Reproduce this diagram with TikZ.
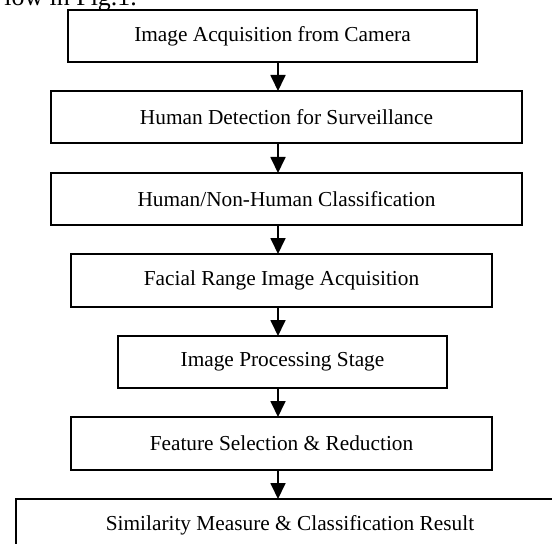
\documentclass[tikz,border=0pt]{standalone}
\usepackage{fontspec}
\setmainfont{Liberation Serif}
\usetikzlibrary{arrows.meta}
\begin{document}
\begin{tikzpicture}[x=1bp,y=-1bp,
  stage/.style={draw, line width=1.6bp, inner sep=0pt, outer sep=0pt,
    align=center, font=\fontsize{21.4}{25}\selectfont},
  flow/.style={line width=1.8bp, -{Triangle[width=15bp,length=16bp]}}]
  \useasboundingbox (0,0) rectangle (552,544);
  \clip (0,0) rectangle (552,544);
  % running text above the figure
  \node[anchor=base east, inner sep=0pt, font=\fontsize{26}{30}\selectfont]
    (caption) at (137,6) {low in Fig.1.};
  % processing stages
  \node[stage, minimum width=409bp, minimum height=52bp] (b1) at (272.5,36) {Image Acquisition from Camera};
  \node[stage, minimum width=471bp, minimum height=52bp] (b2) at (286.5,117) {Human Detection for Surveillance};
  \node[stage, minimum width=471bp, minimum height=52bp] (b3) at (286.5,199) {Human/Non-Human Classification};
  \node[stage, minimum width=421bp, minimum height=53bp] (b4) at (281.5,280.5) {Facial Range Image Acquisition};
  \node[stage, minimum width=329bp, minimum height=52bp] (b5) at (282.5,362) {Image Processing Stage};
  \node[stage, minimum width=421bp, minimum height=53bp] (b6) at (281.5,443.5) {Feature Selection \& Reduction};
  \node[stage, minimum width=548bp, minimum height=52bp] (b7) at (290,525) {Similarity Measure \& Classification Result};
  % flow arrows along a common vertical axis
  \coordinate (ax) at (278,0);
  \foreach \a/\b in {b1/b2,b2/b3,b3/b4,b4/b5,b5/b6,b6/b7}
    \draw[flow] (\a.south -| ax) -- (\b.north -| ax);
\end{tikzpicture}
\end{document}
